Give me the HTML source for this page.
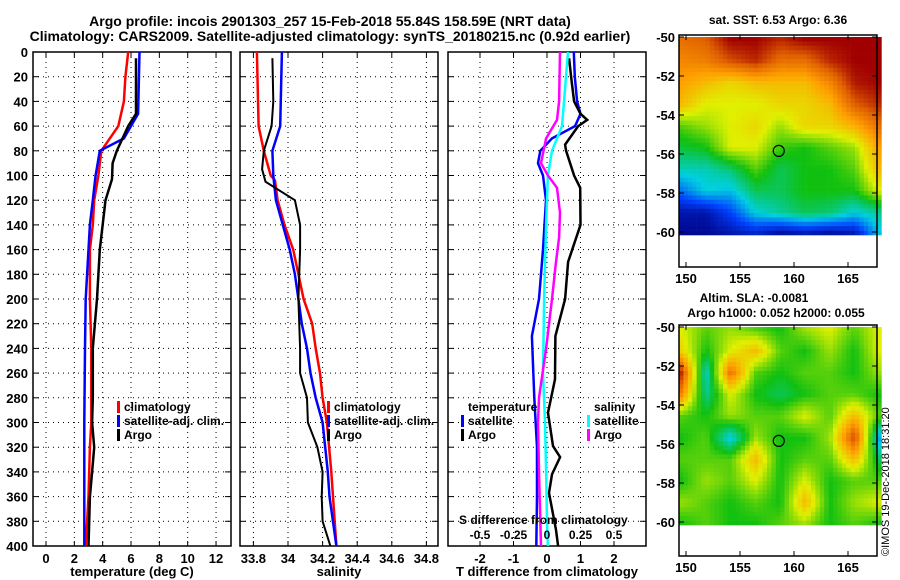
<!DOCTYPE html>
<html><head><meta charset="utf-8"><style>
html,body{margin:0;padding:0;background:#fff}
svg{display:block;font-family:"Liberation Sans",Arial,sans-serif;font-weight:bold}
</style></head><body>
<svg id="s" width="900" height="580" viewBox="0 0 900 580" xmlns="http://www.w3.org/2000/svg">
<text x="330" y="26" text-anchor="middle" font-size="14">Argo profile: incois 2901303_257 15-Feb-2018 55.84S 158.59E (NRT data)</text>
<text x="330" y="41" text-anchor="middle" font-size="14">Climatology: CARS2009. Satellite-adjusted climatology: synTS_20180215.nc (0.92d earlier)</text>
<text x="778" y="24" text-anchor="middle" font-size="12">sat. SST: 6.53 Argo: 6.36</text>
<text x="754" y="302" text-anchor="middle" font-size="12">Altim. SLA: -0.0081</text>
<text x="776" y="317" text-anchor="middle" font-size="12">Argo h1000: 0.052 h2000: 0.055</text>
<text transform="translate(889,556) rotate(-90)" font-size="11" font-weight="normal">©IMOS 19-Dec-2018 18:31:20</text>
</svg>
<script>
const depthTicks=[0,20,40,60,80,100,120,140,160,180,200,220,240,260,280,300,320,340,360,380,400];
// Temperature panel
const tDepC=[0,20,40,50,60,80,100,120,140,160,200,240,300,320,360,400];
const tClim=[5.8,5.6,5.5,5.3,5.1,3.9,3.7,3.4,3.3,3.1,3.1,3.2,3.2,3.1,3.0,2.8];
const tDepS=[0,50,60,70,80,100,120,140,160,200,240,300,400];
const tSat=[6.6,6.5,6.0,5.5,3.8,3.5,3.3,3.1,3.0,2.8,2.75,2.7,2.7];
const tDepA=[5,50,60,80,90,103,120,160,200,240,280,300,320,340,360,400];
const tArgo=[6.35,6.35,5.8,5.0,4.7,4.66,4.2,3.8,3.6,3.3,3.3,3.25,3.4,3.25,3.1,3.0];
const tTicks=[0,2,4,6,8,10,12];
// Salinity panel
const sDepC=[0,60,80,100,104,120,140,160,180,200,220,240,260,280,300,340,380,400];
const sClim=[33.82,33.83,33.86,33.9,33.925,33.94,33.98,34.03,34.06,34.09,34.14,34.16,34.185,34.2,34.225,34.25,34.27,34.28];
const sDepS=[0,60,80,100,120,140,160,180,200,220,240,260,280,300,320,340,360,400];
const sSat=[33.965,33.955,33.91,33.915,33.93,33.97,34.01,34.04,34.06,34.08,34.11,34.13,34.16,34.2,34.215,34.23,34.24,34.28];
const sDepA=[5,40,60,80,95,105,120,140,160,200,240,260,280,300,320,340,360,380,400];
const sArgo=[33.91,33.915,33.905,33.86,33.85,33.87,34.04,34.07,34.07,34.06,34.07,34.07,34.11,34.115,34.17,34.2,34.195,34.2,34.245];
const sTicks=[33.8,34,34.2,34.4,34.6,34.8];
const sTickLbl=["33.8","34","34.2","34.4","34.6","34.8"];
// Difference panel
const dDepTS=[0,20,40,50,60,70,80,90,100,120,160,200,230,280,320,360,400];
const dTSat=[0.8,0.83,0.9,1.0,0.84,0.15,-0.2,-0.27,-0.12,-0.03,-0.12,-0.24,-0.45,-0.38,-0.3,-0.3,-0.32];
const dDepTA=[5,20,40,50,55,60,75,80,100,110,140,170,200,230,265,292,319,328,342,357,387,400];
const dTArgo=[0.66,0.72,0.81,1.0,1.2,0.93,0.54,0.57,0.81,0.99,1.0,0.63,0.54,0.25,0.24,0.03,0.18,0.39,0.15,0.06,0.27,0.33];
const dDepSS=[0,40,60,80,100,120,140,200,260,300,340,380,400];
const dSSat=[0.157,0.127,0.112,0.037,0.007,0,-0.007,-0.022,-0.03,-0.015,-0.007,0,0.007];
const dDepSA=[0,40,55,70,90,100,110,130,150,170,200,240,280,300,340,400];
const dSArgo=[0.097,0.09,0.075,-0.007,-0.045,0.007,0.075,0.097,0.09,0.067,0.037,-0.007,-0.06,-0.067,-0.06,-0.045];
const dTTicks=[-2,-1,0,1,2];
const dSTicks=[-0.5,-0.25,0,0.25,0.5];
const dSTickLbl=["-0.5","-0.25","0","0.25","0.5"];
// Map grids (colour index 0=navy .. 1=dark red), rows -50..-60, cols 149.4..167.7
const sstGrid=[
[.85,.88,1,1,.95,1,1,1,1],
[.8,.82,.9,.95,.85,.85,.95,1,1],
[.75,.7,.65,.7,.7,.7,.8,.97,1],
[.7,.6,.6,.6,.65,.65,.7,.88,.95],
[.5,.55,.6,.65,.55,.65,.65,.72,.85],
[.42,.45,.6,.6,.48,.45,.5,.55,.75],
[.33,.33,.38,.5,.4,.45,.45,.5,.7],
[.2,.3,.28,.4,.4,.45,.45,.45,.6],
[.05,.05,.15,.3,.35,.4,.38,.3,.35],
[.02,.02,.05,.08,.02,.05,.02,.05,.28]];
const slaGrid=[
[.6,.5,.55,.5,.45,.55,.6,.5,.6],
[.65,.45,.6,.7,.5,.45,.55,.45,.6],
[.95,.3,.85,.5,.45,.5,.5,.45,.55],
[.8,.35,.6,.45,.4,.45,.5,.5,.45],
[.5,.45,.55,.5,.5,.6,.5,.7,.5],
[.45,.5,.28,.55,.45,.45,.55,.92,.25],
[.5,.5,.5,.7,.45,.5,.5,.7,.4],
[.45,.55,.5,.6,.45,.6,.45,.5,.5],
[.55,.5,.45,.5,.45,.7,.45,.55,.6],
[.45,.5,.45,.45,.5,.55,.45,.5,.45]];
const argoLon=158.59, argoLat=-55.84;

const S=document.getElementById('s');
const NS='http://www.w3.org/2000/svg';
function mk(tag,at,parent){const e=document.createElementNS(NS,tag);for(const k in at)e.setAttribute(k,at[k]);(parent||S).appendChild(e);return e;}
const Y0=52,Y1=546;
const yD=d=>Y0+(Y1-Y0)*d/400;

function panel(name,x0,x1,xf,ticks,lbls,xlabel){
  const g=mk('g',{});
  
  
  ticks.forEach((t,i)=>{const x=xf(t);
    const l=mk('line',{x1:x,x2:x,y1:Y0,y2:Y1,stroke:'#000','stroke-width':1,'stroke-dasharray':'1,4'},g);
    
    
    mk('line',{x1:x,x2:x,y1:Y1,y2:Y1-5,stroke:'#000'},g);
    mk('line',{x1:x,x2:x,y1:Y0,y2:Y0+5,stroke:'#000'},g);
    if(lbls){const tx=mk('text',{x:x,y:Y1+17,'text-anchor':'middle','font-size':13},g);tx.textContent=lbls[i];
      
      }
  });
  depthTicks.forEach(d=>{const y=yD(d);
    if(d>0&&d<400)mk('line',{x1:x0,x2:x1,y1:y,y2:y,stroke:'#000','stroke-dasharray':'1,4'},g);
    mk('line',{x1:x0,x2:x0+6,y1:y,y2:y,stroke:'#000'},g);
    mk('line',{x1:x1-6,x2:x1,y1:y,y2:y,stroke:'#000'},g);
  });
  const r=mk('rect',{x:x0,y:Y0,width:x1-x0,height:Y1-Y0,fill:'none',stroke:'#000','stroke-width':1.5},g);
  
  
  const xl=mk('text',{x:(x0+x1)/2,y:576,'text-anchor':'middle','font-size':13},g);xl.textContent=xlabel;
  
  
  return g;
}
function line(g,name,deps,vals,xf,col,w){
  const pts=deps.map((d,i)=>xf(vals[i]).toFixed(1)+','+yD(d).toFixed(1)).join(' ');
  const p=mk('polyline',{points:pts,fill:'none',stroke:col,'stroke-width':w},g);
  
  
}
function legend(g,name,x,y,col,txt){
  mk('rect',{x:x,y:y-10,width:3,height:12,fill:col},g);
  const t=mk('text',{x:x+7,y:y,'font-size':12},g);t.textContent=txt;
  
  
}
const xT=t=>46+14.17*t;
const gT=panel('temperature',33,231,xT,tTicks,tTicks.map(String),'temperature (deg C)');
depthTicks.forEach(d=>{const t=mk('text',{x:28,y:yD(d)+5,'text-anchor':'end','font-size':13});t.textContent=d;
  
  });
line(gT,'temp-climatology-line',tDepC,tClim,xT,'#f00',2.5);
line(gT,'temp-satellite-line',tDepS,tSat,xT,'#00f',2.5);
line(gT,'temp-argo-line',tDepA,tArgo,xT,'#000',2.5);
legend(gT,'legend-climatology',117,411,'#f00','climatology');
legend(gT,'legend-satellite-adj',117,425,'#00f','satellite-adj. clim.');
legend(gT,'legend-argo',117,439,'#000','Argo');
const xS=s=>288+173*(s-34);
const gS=panel('salinity',240,438,xS,sTicks,sTickLbl,'salinity');
line(gS,'sal-climatology-line',sDepC,sClim,xS,'#f00',2.5);
line(gS,'sal-satellite-line',sDepS,sSat,xS,'#00f',2.5);
line(gS,'sal-argo-line',sDepA,sArgo,xS,'#000',2);
legend(gS,'legend-climatology-sal',327,411,'#f00','climatology');
legend(gS,'legend-satellite-adj-sal',327,425,'#00f','satellite-adj. clim.');
legend(gS,'legend-argo-sal',327,439,'#000','Argo');
const xDT=t=>547+33.5*t, xDS=s=>547+134*s;
const gD=panel('difference',448,646,xDT,dTTicks,dTTicks.map(String),'T difference from climatology');
line(gD,'tdiff-satellite-line',dDepTS,dTSat,xDT,'#00f',2.5);
line(gD,'tdiff-argo-line',dDepTA,dTArgo,xDT,'#000',2.5);
line(gD,'sdiff-satellite-line',dDepSS,dSSat,xDS,'#0ff',2.5);
line(gD,'sdiff-argo-line',dDepSA,dSArgo,xDS,'#f0f',2.5);
{const t=mk('text',{x:468,y:411,'font-size':12},gD);t.textContent='temperature';
 
 const u=mk('text',{x:594,y:411,'font-size':12},gD);u.textContent='salinity';
 }
legend(gD,'legend-t-satellite',461,425,'#00f','satellite');
legend(gD,'legend-t-argo',461,439,'#000','Argo');
legend(gD,'legend-s-satellite',587,425,'#0ff','satellite');
legend(gD,'legend-s-argo',587,439,'#f0f','Argo');
{const t=mk('text',{x:459,y:524,'font-size':12},gD);t.textContent='S difference from climatology';
 }
dSTicks.forEach((s,i)=>{const t=mk('text',{x:xDS(s),y:539,'text-anchor':'middle','font-size':12},gD);t.textContent=dSTickLbl[i];
 
 });

const stops=[[0,[0,0,128]],[.15,[0,64,255]],[.3,[0,208,224]],[.45,[16,192,16]],[.6,[224,240,0]],[.75,[255,160,0]],[.88,[224,96,0]],[1,[160,0,0]]];
function cmap(v){v=Math.max(0,Math.min(1,v));for(let i=1;i<stops.length;i++){if(v<=stops[i][0]){const a=stops[i-1],b=stops[i],f=(v-a[0])/(b[0]-a[0]);return 'rgb('+a[1].map((c,k)=>Math.round(c+(b[1][k]-c)*f)).join(',')+')';}}return 'rgb(160,0,0)';}
function samp(G,fr,fc){const R=G.length,C=G[0].length;let r=fr*(R-1),c=fc*(C-1);const r0=Math.min(R-2,Math.floor(r)),c0=Math.min(C-2,Math.floor(c));const a=r-r0,b=c-c0;
 return G[r0][c0]*(1-a)*(1-b)+G[r0][c0+1]*(1-a)*b+G[r0+1][c0]*a*(1-b)+G[r0+1][c0+1]*a*b;}
function map(name,G,top,lat50,lat60,bottom){
  const X0=679,X1=877;
  const g=mk('g',{});
  
  
  const cs=4.4;
  for(let y=lat50;y<lat60;y+=cs){for(let x=X0;x<X1;x+=cs){
    mk('rect',{x:x.toFixed(1),y:y.toFixed(1),width:cs+0.3,height:cs+0.3,fill:cmap(samp(G,(y-lat50)/(lat60-lat50),(x-X0)/(X1-X0)))},g);
  }}
  mk('rect',{x:X0,y:top,width:X1-X0,height:bottom-top,fill:'none',stroke:'#000','stroke-width':1.5},g);
  const lonX=l=>686+10.8*(l-150), latY=l=>lat50+(lat60-lat50)*(-50-l)/10;
  [150,155,160,165].forEach(l=>{mk('line',{x1:lonX(l),x2:lonX(l),y1:top,y2:top+5,stroke:'#000'},g);mk('line',{x1:lonX(l),x2:lonX(l),y1:bottom,y2:bottom-5,stroke:'#000'},g);
    const t=mk('text',{x:lonX(l),y:bottom+16,'text-anchor':'middle','font-size':13},g);t.textContent=l;
    });
  [-50,-52,-54,-56,-58,-60].forEach(l=>{const y=latY(l);mk('line',{x1:X0,x2:X0+5,y1:y,y2:y,stroke:'#000'},g);mk('line',{x1:X1-5,x2:X1,y1:y,y2:y,stroke:'#000'},g);
    const t=mk('text',{x:X0-4,y:y+5,'text-anchor':'end','font-size':13},g);t.textContent=l;
    });
  const c=mk('circle',{cx:lonX(argoLon),cy:latY(argoLat),r:5.5,fill:'none',stroke:'#000','stroke-width':1.2},g);
  
  
}
map('sst-map',sstGrid,35,37,232,267);
map('sla-map',slaGrid,325,327,522,556);
</script>
</body></html>
